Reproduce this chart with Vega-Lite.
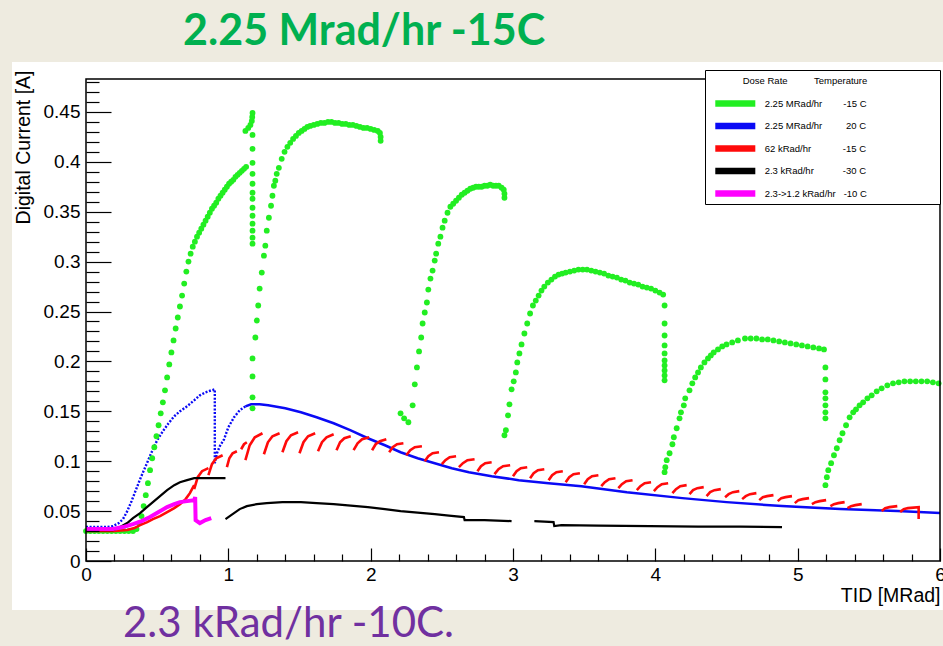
{
  "$schema": "https://vega.github.io/schema/vega-lite/v6.json",
  "width": 854,
  "height": 482,
  "autosize": {"type": "none"},
  "padding": {"left": 86, "top": 79, "right": 3, "bottom": 85},
  "background": "#eeebe0",
  "config": {"view": {"stroke": null}},
  "data": {"values": [
    {"s":"G","x":0,"y":0.03},{"s":"G","x":0.03,"y":0.03},{"s":"G","x":0.06,"y":0.03},{"s":"G","x":0.09,"y":0.03},{"s":"G","x":0.12,"y":0.03},{"s":"G","x":0.15,"y":0.03},{"s":"G","x":0.18,"y":0.03},{"s":"G","x":0.21,"y":0.03},{"s":"G","x":0.24,"y":0.03},{"s":"G","x":0.27,"y":0.03},{"s":"G","x":0.3,"y":0.03},{"s":"G","x":0.33,"y":0.03},{"s":"G","x":0.355,"y":0.032},{"s":"G","x":0.375,"y":0.038},
    {"s":"G","x":0.39,"y":0.045},{"s":"G","x":0.405,"y":0.055},{"s":"G","x":0.42,"y":0.066},{"s":"G","x":0.435,"y":0.078},{"s":"G","x":0.45,"y":0.091},{"s":"G","x":0.465,"y":0.103},{"s":"G","x":0.48,"y":0.114},{"s":"G","x":0.495,"y":0.125},{"s":"G","x":0.51,"y":0.136},{"s":"G","x":0.525,"y":0.148},{"s":"G","x":0.54,"y":0.159},{"s":"G","x":0.555,"y":0.171},{"s":"G","x":0.57,"y":0.184},{"s":"G","x":0.585,"y":0.197},{"s":"G","x":0.6,"y":0.209},{"s":"G","x":0.615,"y":0.221},{"s":"G","x":0.63,"y":0.233},{"s":"G","x":0.645,"y":0.244},{"s":"G","x":0.66,"y":0.255},{"s":"G","x":0.675,"y":0.266},{"s":"G","x":0.69,"y":0.278},{"s":"G","x":0.705,"y":0.29},{"s":"G","x":0.72,"y":0.3},{"s":"G","x":0.735,"y":0.308},{"s":"G","x":0.75,"y":0.315},{"s":"G","x":0.765,"y":0.32},{"s":"G","x":0.78,"y":0.325},{"s":"G","x":0.795,"y":0.329},{"s":"G","x":0.81,"y":0.333},{"s":"G","x":0.825,"y":0.337},{"s":"G","x":0.84,"y":0.341},{"s":"G","x":0.855,"y":0.345},{"s":"G","x":0.87,"y":0.349},{"s":"G","x":0.885,"y":0.353},{"s":"G","x":0.9,"y":0.356},{"s":"G","x":0.915,"y":0.359},{"s":"G","x":0.93,"y":0.363},{"s":"G","x":0.945,"y":0.366},{"s":"G","x":0.96,"y":0.369},{"s":"G","x":0.975,"y":0.372},{"s":"G","x":0.99,"y":0.375},{"s":"G","x":1.005,"y":0.378},{"s":"G","x":1.02,"y":0.38},{"s":"G","x":1.035,"y":0.382},{"s":"G","x":1.05,"y":0.385},{"s":"G","x":1.065,"y":0.387},{"s":"G","x":1.08,"y":0.389},{"s":"G","x":1.095,"y":0.391},{"s":"G","x":1.11,"y":0.393},{"s":"G","x":1.125,"y":0.395},
    {"s":"G","x":1.12,"y":0.431},{"s":"G","x":1.14,"y":0.434},{"s":"G","x":1.155,"y":0.437},{"s":"G","x":1.165,"y":0.441},{"s":"G","x":1.168,"y":0.445},{"s":"G","x":1.17,"y":0.449},
    {"s":"G","x":1.17,"y":0.427},{"s":"G","x":1.17,"y":0.413},{"s":"G","x":1.17,"y":0.399},{"s":"G","x":1.17,"y":0.388},{"s":"G","x":1.17,"y":0.378},{"s":"G","x":1.17,"y":0.369},{"s":"G","x":1.17,"y":0.363},{"s":"G","x":1.17,"y":0.354},{"s":"G","x":1.17,"y":0.346},{"s":"G","x":1.17,"y":0.338},{"s":"G","x":1.17,"y":0.331},{"s":"G","x":1.17,"y":0.324},{"s":"G","x":1.17,"y":0.318},{"s":"G","x":1.17,"y":0.203},{"s":"G","x":1.17,"y":0.185},{"s":"G","x":1.17,"y":0.164},{"s":"G","x":1.17,"y":0.153},
    {"s":"G","x":1.19,"y":0.224},{"s":"G","x":1.2,"y":0.241},{"s":"G","x":1.21,"y":0.256},{"s":"G","x":1.22,"y":0.273},{"s":"G","x":1.235,"y":0.289},{"s":"G","x":1.25,"y":0.306},{"s":"G","x":1.26,"y":0.316},{"s":"G","x":1.27,"y":0.331},{"s":"G","x":1.285,"y":0.344},{"s":"G","x":1.3,"y":0.356},{"s":"G","x":1.31,"y":0.366},{"s":"G","x":1.32,"y":0.376},{"s":"G","x":1.33,"y":0.381},{"s":"G","x":1.34,"y":0.388},{"s":"G","x":1.355,"y":0.394},{"s":"G","x":1.375,"y":0.403},{"s":"G","x":1.395,"y":0.41},{"s":"G","x":1.415,"y":0.415},{"s":"G","x":1.435,"y":0.419},{"s":"G","x":1.455,"y":0.423},{"s":"G","x":1.475,"y":0.426},{"s":"G","x":1.495,"y":0.429},{"s":"G","x":1.515,"y":0.431},{"s":"G","x":1.535,"y":0.433},{"s":"G","x":1.555,"y":0.435},{"s":"G","x":1.575,"y":0.436},{"s":"G","x":1.6,"y":0.437},{"s":"G","x":1.625,"y":0.438},{"s":"G","x":1.65,"y":0.439},{"s":"G","x":1.675,"y":0.439},{"s":"G","x":1.7,"y":0.44},{"s":"G","x":1.725,"y":0.44},{"s":"G","x":1.75,"y":0.439},{"s":"G","x":1.775,"y":0.439},{"s":"G","x":1.8,"y":0.438},{"s":"G","x":1.825,"y":0.438},{"s":"G","x":1.85,"y":0.437},{"s":"G","x":1.875,"y":0.437},{"s":"G","x":1.9,"y":0.436},{"s":"G","x":1.925,"y":0.435},{"s":"G","x":1.95,"y":0.434},{"s":"G","x":1.975,"y":0.434},{"s":"G","x":2.0,"y":0.433},{"s":"G","x":2.025,"y":0.432},{"s":"G","x":2.05,"y":0.431},{"s":"G","x":2.065,"y":0.429},{"s":"G","x":2.07,"y":0.425},{"s":"G","x":2.07,"y":0.421},
    {"s":"G","x":2.21,"y":0.148},{"s":"G","x":2.235,"y":0.143},{"s":"G","x":2.265,"y":0.139},{"s":"G","x":2.295,"y":0.156},{"s":"G","x":2.31,"y":0.177},{"s":"G","x":2.325,"y":0.194},{"s":"G","x":2.34,"y":0.21},{"s":"G","x":2.355,"y":0.224},{"s":"G","x":2.365,"y":0.238},{"s":"G","x":2.38,"y":0.249},{"s":"G","x":2.395,"y":0.259},{"s":"G","x":2.405,"y":0.272},{"s":"G","x":2.42,"y":0.283},{"s":"G","x":2.435,"y":0.291},{"s":"G","x":2.45,"y":0.301},{"s":"G","x":2.46,"y":0.308},{"s":"G","x":2.475,"y":0.318},{"s":"G","x":2.49,"y":0.325},{"s":"G","x":2.505,"y":0.334},{"s":"G","x":2.52,"y":0.341},{"s":"G","x":2.54,"y":0.349},{"s":"G","x":2.56,"y":0.355},{"s":"G","x":2.58,"y":0.358},{"s":"G","x":2.6,"y":0.361},{"s":"G","x":2.62,"y":0.364},{"s":"G","x":2.64,"y":0.367},{"s":"G","x":2.66,"y":0.369},{"s":"G","x":2.68,"y":0.371},{"s":"G","x":2.7,"y":0.373},{"s":"G","x":2.72,"y":0.374},{"s":"G","x":2.74,"y":0.375},{"s":"G","x":2.76,"y":0.375},{"s":"G","x":2.78,"y":0.375},{"s":"G","x":2.8,"y":0.376},{"s":"G","x":2.82,"y":0.376},{"s":"G","x":2.84,"y":0.377},{"s":"G","x":2.86,"y":0.376},{"s":"G","x":2.88,"y":0.376},{"s":"G","x":2.9,"y":0.376},{"s":"G","x":2.92,"y":0.374},{"s":"G","x":2.935,"y":0.372},{"s":"G","x":2.94,"y":0.368},{"s":"G","x":2.94,"y":0.364},
    {"s":"G","x":2.94,"y":0.126},{"s":"G","x":2.95,"y":0.131},{"s":"G","x":2.965,"y":0.146},{"s":"G","x":2.975,"y":0.157},{"s":"G","x":2.99,"y":0.172},{"s":"G","x":3.005,"y":0.18},{"s":"G","x":3.02,"y":0.189},{"s":"G","x":3.03,"y":0.199},{"s":"G","x":3.045,"y":0.208},{"s":"G","x":3.06,"y":0.217},{"s":"G","x":3.08,"y":0.228},{"s":"G","x":3.1,"y":0.238},{"s":"G","x":3.12,"y":0.248},{"s":"G","x":3.14,"y":0.256},{"s":"G","x":3.16,"y":0.261},{"s":"G","x":3.18,"y":0.266},{"s":"G","x":3.2,"y":0.271},{"s":"G","x":3.22,"y":0.275},{"s":"G","x":3.245,"y":0.279},{"s":"G","x":3.27,"y":0.282},{"s":"G","x":3.295,"y":0.285},{"s":"G","x":3.32,"y":0.287},{"s":"G","x":3.345,"y":0.288},{"s":"G","x":3.37,"y":0.289},{"s":"G","x":3.4,"y":0.29},{"s":"G","x":3.43,"y":0.291},{"s":"G","x":3.46,"y":0.292},{"s":"G","x":3.49,"y":0.292},{"s":"G","x":3.52,"y":0.292},{"s":"G","x":3.55,"y":0.291},{"s":"G","x":3.58,"y":0.29},{"s":"G","x":3.61,"y":0.289},{"s":"G","x":3.64,"y":0.288},{"s":"G","x":3.67,"y":0.286},{"s":"G","x":3.7,"y":0.285},{"s":"G","x":3.73,"y":0.284},{"s":"G","x":3.76,"y":0.282},{"s":"G","x":3.79,"y":0.281},{"s":"G","x":3.82,"y":0.279},{"s":"G","x":3.85,"y":0.278},{"s":"G","x":3.88,"y":0.277},{"s":"G","x":3.91,"y":0.275},{"s":"G","x":3.94,"y":0.274},{"s":"G","x":3.97,"y":0.273},{"s":"G","x":4.0,"y":0.271},{"s":"G","x":4.03,"y":0.269},{"s":"G","x":4.055,"y":0.267},
    {"s":"G","x":4.065,"y":0.256},{"s":"G","x":4.065,"y":0.238},{"s":"G","x":4.065,"y":0.226},{"s":"G","x":4.065,"y":0.216},{"s":"G","x":4.065,"y":0.208},{"s":"G","x":4.065,"y":0.201},{"s":"G","x":4.065,"y":0.196},{"s":"G","x":4.065,"y":0.191},{"s":"G","x":4.065,"y":0.186},{"s":"G","x":4.065,"y":0.181},
    {"s":"G","x":4.065,"y":0.089},{"s":"G","x":4.07,"y":0.094},{"s":"G","x":4.08,"y":0.101},{"s":"G","x":4.1,"y":0.108},{"s":"G","x":4.12,"y":0.117},{"s":"G","x":4.13,"y":0.124},{"s":"G","x":4.15,"y":0.133},{"s":"G","x":4.17,"y":0.143},{"s":"G","x":4.18,"y":0.149},{"s":"G","x":4.2,"y":0.156},{"s":"G","x":4.21,"y":0.163},{"s":"G","x":4.24,"y":0.171},{"s":"G","x":4.26,"y":0.178},{"s":"G","x":4.28,"y":0.184},{"s":"G","x":4.3,"y":0.189},{"s":"G","x":4.32,"y":0.194},{"s":"G","x":4.345,"y":0.199},{"s":"G","x":4.37,"y":0.203},{"s":"G","x":4.39,"y":0.206},{"s":"G","x":4.41,"y":0.209},{"s":"G","x":4.44,"y":0.212},{"s":"G","x":4.47,"y":0.215},{"s":"G","x":4.5,"y":0.217},{"s":"G","x":4.54,"y":0.219},{"s":"G","x":4.58,"y":0.221},{"s":"G","x":4.63,"y":0.223},{"s":"G","x":4.67,"y":0.223},{"s":"G","x":4.71,"y":0.223},{"s":"G","x":4.75,"y":0.222},{"s":"G","x":4.79,"y":0.222},{"s":"G","x":4.83,"y":0.221},{"s":"G","x":4.87,"y":0.22},{"s":"G","x":4.91,"y":0.219},{"s":"G","x":4.95,"y":0.218},{"s":"G","x":4.99,"y":0.217},{"s":"G","x":5.03,"y":0.216},{"s":"G","x":5.07,"y":0.215},{"s":"G","x":5.11,"y":0.214},{"s":"G","x":5.15,"y":0.213},{"s":"G","x":5.185,"y":0.212},
    {"s":"G","x":5.195,"y":0.194},{"s":"G","x":5.195,"y":0.182},{"s":"G","x":5.195,"y":0.169},{"s":"G","x":5.195,"y":0.163},{"s":"G","x":5.195,"y":0.156},{"s":"G","x":5.195,"y":0.149},{"s":"G","x":5.195,"y":0.143},
    {"s":"G","x":5.195,"y":0.076},{"s":"G","x":5.205,"y":0.084},{"s":"G","x":5.215,"y":0.091},{"s":"G","x":5.235,"y":0.098},{"s":"G","x":5.255,"y":0.106},{"s":"G","x":5.275,"y":0.113},{"s":"G","x":5.295,"y":0.121},{"s":"G","x":5.315,"y":0.128},{"s":"G","x":5.34,"y":0.136},{"s":"G","x":5.365,"y":0.144},{"s":"G","x":5.39,"y":0.149},{"s":"G","x":5.41,"y":0.152},{"s":"G","x":5.435,"y":0.156},{"s":"G","x":5.46,"y":0.159},{"s":"G","x":5.49,"y":0.163},{"s":"G","x":5.52,"y":0.166},{"s":"G","x":5.555,"y":0.17},{"s":"G","x":5.59,"y":0.173},{"s":"G","x":5.63,"y":0.176},{"s":"G","x":5.67,"y":0.178},{"s":"G","x":5.71,"y":0.179},{"s":"G","x":5.75,"y":0.18},{"s":"G","x":5.79,"y":0.18},{"s":"G","x":5.83,"y":0.18},{"s":"G","x":5.87,"y":0.18},{"s":"G","x":5.91,"y":0.18},{"s":"G","x":5.95,"y":0.179},{"s":"G","x":5.99,"y":0.178},

    {"s":"B","seg":0,"x":0,"y":0.034},{"s":"B","seg":0,"x":0.05,"y":0.034},{"s":"B","seg":0,"x":0.1,"y":0.034},{"s":"B","seg":0,"x":0.15,"y":0.034},{"s":"B","seg":0,"x":0.19,"y":0.035},{"s":"B","seg":0,"x":0.23,"y":0.038},{"s":"B","seg":0,"x":0.26,"y":0.042},{"s":"B","seg":0,"x":0.29,"y":0.05},{"s":"B","seg":0,"x":0.32,"y":0.06},{"s":"B","seg":0,"x":0.35,"y":0.071},{"s":"B","seg":0,"x":0.38,"y":0.082},{"s":"B","seg":0,"x":0.41,"y":0.092},{"s":"B","seg":0,"x":0.44,"y":0.102},{"s":"B","seg":0,"x":0.47,"y":0.112},{"s":"B","seg":0,"x":0.5,"y":0.121},{"s":"B","seg":0,"x":0.54,"y":0.13},{"s":"B","seg":0,"x":0.58,"y":0.138},{"s":"B","seg":0,"x":0.62,"y":0.145},{"s":"B","seg":0,"x":0.66,"y":0.15},{"s":"B","seg":0,"x":0.71,"y":0.155},{"s":"B","seg":0,"x":0.76,"y":0.161},{"s":"B","seg":0,"x":0.8,"y":0.166},{"s":"B","seg":0,"x":0.84,"y":0.169},{"s":"B","seg":0,"x":0.88,"y":0.171},{"s":"B","seg":0,"x":0.905,"y":0.172},{"s":"B","seg":0,"x":0.905,"y":0.098},{"s":"B","seg":0,"x":0.92,"y":0.108},{"s":"B","seg":0,"x":0.94,"y":0.115},{"s":"B","seg":0,"x":0.97,"y":0.122},{"s":"B","seg":0,"x":1.0,"y":0.134},{"s":"B","seg":0,"x":1.04,"y":0.144},{"s":"B","seg":0,"x":1.08,"y":0.151},{"s":"B","seg":0,"x":1.12,"y":0.155},
    {"s":"B","seg":1,"x":1.12,"y":0.155},{"s":"B","seg":1,"x":1.16,"y":0.157},{"s":"B","seg":1,"x":1.22,"y":0.157},{"s":"B","seg":1,"x":1.28,"y":0.156},{"s":"B","seg":1,"x":1.4,"y":0.153},{"s":"B","seg":1,"x":1.51,"y":0.149},{"s":"B","seg":1,"x":1.62,"y":0.144},{"s":"B","seg":1,"x":1.74,"y":0.138},{"s":"B","seg":1,"x":1.86,"y":0.131},{"s":"B","seg":1,"x":1.98,"y":0.123},{"s":"B","seg":1,"x":2.1,"y":0.116},{"s":"B","seg":1,"x":2.21,"y":0.109},{"s":"B","seg":1,"x":2.33,"y":0.103},{"s":"B","seg":1,"x":2.45,"y":0.098},{"s":"B","seg":1,"x":2.57,"y":0.093},{"s":"B","seg":1,"x":2.69,"y":0.089},{"s":"B","seg":1,"x":2.85,"y":0.085},{"s":"B","seg":1,"x":3.04,"y":0.081},{"s":"B","seg":1,"x":3.25,"y":0.078},{"s":"B","seg":1,"x":3.48,"y":0.075},{"s":"B","seg":1,"x":3.8,"y":0.069},{"s":"B","seg":1,"x":4.19,"y":0.063},{"s":"B","seg":1,"x":4.5,"y":0.059},{"s":"B","seg":1,"x":4.89,"y":0.055},{"s":"B","seg":1,"x":5.3,"y":0.052},{"s":"B","seg":1,"x":5.7,"y":0.05},{"s":"B","seg":1,"x":6.0,"y":0.048},

    {"s":"R","seg":0,"x":0,"y":0.03},{"s":"R","seg":0,"x":0.1,"y":0.03},{"s":"R","seg":0,"x":0.2,"y":0.03},{"s":"R","seg":0,"x":0.29,"y":0.031},{"s":"R","seg":0,"x":0.34,"y":0.033},{"s":"R","seg":0,"x":0.38,"y":0.036},{"s":"R","seg":0,"x":0.43,"y":0.039},{"s":"R","seg":0,"x":0.47,"y":0.042},{"s":"R","seg":0,"x":0.52,"y":0.045},{"s":"R","seg":0,"x":0.57,"y":0.049},{"s":"R","seg":0,"x":0.62,"y":0.053},{"s":"R","seg":0,"x":0.66,"y":0.057},{"s":"R","seg":0,"x":0.7,"y":0.062},{"s":"R","seg":0,"x":0.73,"y":0.068},{"s":"R","seg":0,"x":0.76,"y":0.076},
    {"s":"R","seg":1,"x":0.76,"y":0.072},{"s":"R","seg":1,"x":0.785,"y":0.084},{"s":"R","seg":1,"x":0.815,"y":0.09},{"s":"R","seg":1,"x":0.86,"y":0.093},
    {"s":"R","seg":2,"x":0.86,"y":0.086},{"s":"R","seg":2,"x":0.885,"y":0.097},{"s":"R","seg":2,"x":0.915,"y":0.103},{"s":"R","seg":2,"x":0.96,"y":0.106},
    {"s":"R","seg":3,"x":0.99,"y":0.094},{"s":"R","seg":3,"x":1.007,"y":0.103},{"s":"R","seg":3,"x":1.03,"y":0.108},{"s":"R","seg":3,"x":1.06,"y":0.11},
    {"s":"R","seg":4,"x":1.09,"y":0.112},{"s":"R","seg":4,"x":1.11,"y":0.117},{"s":"R","seg":4,"x":1.13,"y":0.119},
    {"s":"R","seg":5,"x":1.12,"y":0.101},{"s":"R","seg":5,"x":1.15,"y":0.116},{"s":"R","seg":5,"x":1.186,"y":0.124},{"s":"R","seg":5,"x":1.24,"y":0.128},
    {"s":"R","seg":6,"x":1.25,"y":0.107},{"s":"R","seg":6,"x":1.278,"y":0.119},{"s":"R","seg":6,"x":1.31,"y":0.125},{"s":"R","seg":6,"x":1.36,"y":0.128},
    {"s":"R","seg":7,"x":1.38,"y":0.109},{"s":"R","seg":7,"x":1.408,"y":0.12},{"s":"R","seg":7,"x":1.44,"y":0.126},{"s":"R","seg":7,"x":1.49,"y":0.129},
    {"s":"R","seg":8,"x":1.5,"y":0.108},{"s":"R","seg":8,"x":1.528,"y":0.119},{"s":"R","seg":8,"x":1.56,"y":0.125},{"s":"R","seg":8,"x":1.61,"y":0.128},
    {"s":"R","seg":9,"x":1.63,"y":0.11},{"s":"R","seg":9,"x":1.658,"y":0.119},{"s":"R","seg":9,"x":1.69,"y":0.124},{"s":"R","seg":9,"x":1.74,"y":0.127},
    {"s":"R","seg":10,"x":1.76,"y":0.111},{"s":"R","seg":10,"x":1.785,"y":0.119},{"s":"R","seg":10,"x":1.815,"y":0.123},{"s":"R","seg":10,"x":1.86,"y":0.125},
    {"s":"R","seg":11,"x":1.88,"y":0.111},{"s":"R","seg":11,"x":1.908,"y":0.118},{"s":"R","seg":11,"x":1.94,"y":0.122},{"s":"R","seg":11,"x":1.99,"y":0.124},
    {"s":"R","seg":12,"x":2.01,"y":0.111},{"s":"R","seg":12,"x":2.035,"y":0.117},{"s":"R","seg":12,"x":2.065,"y":0.12},{"s":"R","seg":12,"x":2.11,"y":0.122},
    {"s":"R","seg":13,"x":2.13,"y":0.109},{"s":"R","seg":13,"x":2.155,"y":0.114},{"s":"R","seg":13,"x":2.185,"y":0.117},{"s":"R","seg":13,"x":2.23,"y":0.118},
    {"s":"R","seg":14,"x":2.25,"y":0.106},{"s":"R","seg":14,"x":2.278,"y":0.111},{"s":"R","seg":14,"x":2.31,"y":0.114},{"s":"R","seg":14,"x":2.36,"y":0.115},
    {"s":"R","seg":15,"x":2.38,"y":0.1},{"s":"R","seg":15,"x":2.405,"y":0.105},{"s":"R","seg":15,"x":2.435,"y":0.108},{"s":"R","seg":15,"x":2.48,"y":0.109},
    {"s":"R","seg":16,"x":2.5,"y":0.097},{"s":"R","seg":16,"x":2.525,"y":0.101},{"s":"R","seg":16,"x":2.555,"y":0.104},{"s":"R","seg":16,"x":2.6,"y":0.105},
    {"s":"R","seg":17,"x":2.62,"y":0.094},{"s":"R","seg":17,"x":2.648,"y":0.098},{"s":"R","seg":17,"x":2.68,"y":0.101},{"s":"R","seg":17,"x":2.73,"y":0.102},
    {"s":"R","seg":18,"x":2.75,"y":0.09},{"s":"R","seg":18,"x":2.775,"y":0.095},{"s":"R","seg":18,"x":2.805,"y":0.098},{"s":"R","seg":18,"x":2.85,"y":0.099},
    {"s":"R","seg":19,"x":2.87,"y":0.087},{"s":"R","seg":19,"x":2.898,"y":0.092},{"s":"R","seg":19,"x":2.93,"y":0.095},{"s":"R","seg":19,"x":2.98,"y":0.096},
    {"s":"R","seg":20,"x":3.0,"y":0.085},{"s":"R","seg":20,"x":3.025,"y":0.09},{"s":"R","seg":20,"x":3.055,"y":0.093},{"s":"R","seg":20,"x":3.1,"y":0.094},
    {"s":"R","seg":21,"x":3.12,"y":0.083},{"s":"R","seg":21,"x":3.145,"y":0.088},{"s":"R","seg":21,"x":3.175,"y":0.091},{"s":"R","seg":21,"x":3.22,"y":0.092},
    {"s":"R","seg":22,"x":3.25,"y":0.081},{"s":"R","seg":22,"x":3.275,"y":0.086},{"s":"R","seg":22,"x":3.305,"y":0.089},{"s":"R","seg":22,"x":3.35,"y":0.09},
    {"s":"R","seg":23,"x":3.37,"y":0.079},{"s":"R","seg":23,"x":3.395,"y":0.084},{"s":"R","seg":23,"x":3.425,"y":0.087},{"s":"R","seg":23,"x":3.47,"y":0.088},
    {"s":"R","seg":24,"x":3.5,"y":0.077},{"s":"R","seg":24,"x":3.525,"y":0.082},{"s":"R","seg":24,"x":3.555,"y":0.085},{"s":"R","seg":24,"x":3.6,"y":0.086},
    {"s":"R","seg":25,"x":3.62,"y":0.075},{"s":"R","seg":25,"x":3.645,"y":0.079},{"s":"R","seg":25,"x":3.675,"y":0.082},{"s":"R","seg":25,"x":3.72,"y":0.083},
    {"s":"R","seg":26,"x":3.74,"y":0.073},{"s":"R","seg":26,"x":3.765,"y":0.077},{"s":"R","seg":26,"x":3.795,"y":0.08},{"s":"R","seg":26,"x":3.84,"y":0.081},
    {"s":"R","seg":27,"x":3.87,"y":0.071},{"s":"R","seg":27,"x":3.895,"y":0.075},{"s":"R","seg":27,"x":3.925,"y":0.078},{"s":"R","seg":27,"x":3.97,"y":0.079},
    {"s":"R","seg":28,"x":3.99,"y":0.07},{"s":"R","seg":28,"x":4.015,"y":0.074},{"s":"R","seg":28,"x":4.045,"y":0.077},{"s":"R","seg":28,"x":4.09,"y":0.078},
    {"s":"R","seg":29,"x":4.12,"y":0.068},{"s":"R","seg":29,"x":4.145,"y":0.072},{"s":"R","seg":29,"x":4.175,"y":0.075},{"s":"R","seg":29,"x":4.22,"y":0.076},
    {"s":"R","seg":30,"x":4.24,"y":0.067},{"s":"R","seg":30,"x":4.265,"y":0.071},{"s":"R","seg":30,"x":4.295,"y":0.073},{"s":"R","seg":30,"x":4.34,"y":0.074},
    {"s":"R","seg":31,"x":4.36,"y":0.065},{"s":"R","seg":31,"x":4.385,"y":0.069},{"s":"R","seg":31,"x":4.415,"y":0.071},{"s":"R","seg":31,"x":4.46,"y":0.072},
    {"s":"R","seg":32,"x":4.49,"y":0.064},{"s":"R","seg":32,"x":4.515,"y":0.067},{"s":"R","seg":32,"x":4.545,"y":0.069},{"s":"R","seg":32,"x":4.59,"y":0.07},
    {"s":"R","seg":33,"x":4.61,"y":0.062},{"s":"R","seg":33,"x":4.635,"y":0.065},{"s":"R","seg":33,"x":4.665,"y":0.067},{"s":"R","seg":33,"x":4.71,"y":0.068},
    {"s":"R","seg":34,"x":4.73,"y":0.061},{"s":"R","seg":34,"x":4.755,"y":0.064},{"s":"R","seg":34,"x":4.785,"y":0.065},{"s":"R","seg":34,"x":4.83,"y":0.066},
    {"s":"R","seg":35,"x":4.86,"y":0.06},{"s":"R","seg":35,"x":4.885,"y":0.063},{"s":"R","seg":35,"x":4.915,"y":0.064},{"s":"R","seg":35,"x":4.96,"y":0.065},
    {"s":"R","seg":36,"x":4.98,"y":0.058},{"s":"R","seg":36,"x":5.005,"y":0.061},{"s":"R","seg":36,"x":5.035,"y":0.062},{"s":"R","seg":36,"x":5.08,"y":0.063},
    {"s":"R","seg":37,"x":5.1,"y":0.057},{"s":"R","seg":37,"x":5.125,"y":0.059},{"s":"R","seg":37,"x":5.155,"y":0.06},{"s":"R","seg":37,"x":5.2,"y":0.061},
    {"s":"R","seg":38,"x":5.23,"y":0.055},{"s":"R","seg":38,"x":5.255,"y":0.057},{"s":"R","seg":38,"x":5.285,"y":0.058},{"s":"R","seg":38,"x":5.33,"y":0.059},
    {"s":"R","seg":39,"x":5.35,"y":0.053},{"s":"R","seg":39,"x":5.375,"y":0.055},{"s":"R","seg":39,"x":5.405,"y":0.056},{"s":"R","seg":39,"x":5.45,"y":0.057},
    {"s":"R","seg":41,"x":5.59,"y":0.05},{"s":"R","seg":41,"x":5.615,"y":0.053},{"s":"R","seg":41,"x":5.645,"y":0.054},{"s":"R","seg":41,"x":5.7,"y":0.055},
    {"s":"R","seg":42,"x":5.72,"y":0.049},{"s":"R","seg":42,"x":5.745,"y":0.052},{"s":"R","seg":42,"x":5.775,"y":0.053},{"s":"R","seg":42,"x":5.85,"y":0.054},{"s":"R","seg":42,"x":5.85,"y":0.042},

    {"s":"K","seg":0,"x":0,"y":0.031},{"s":"K","seg":0,"x":0.1,"y":0.031},{"s":"K","seg":0,"x":0.19,"y":0.031},{"s":"K","seg":0,"x":0.24,"y":0.034},{"s":"K","seg":0,"x":0.29,"y":0.038},{"s":"K","seg":0,"x":0.33,"y":0.043},{"s":"K","seg":0,"x":0.38,"y":0.048},{"s":"K","seg":0,"x":0.42,"y":0.053},{"s":"K","seg":0,"x":0.47,"y":0.059},{"s":"K","seg":0,"x":0.52,"y":0.065},{"s":"K","seg":0,"x":0.57,"y":0.071},{"s":"K","seg":0,"x":0.62,"y":0.076},{"s":"K","seg":0,"x":0.66,"y":0.079},{"s":"K","seg":0,"x":0.71,"y":0.081},{"s":"K","seg":0,"x":0.76,"y":0.083},{"s":"K","seg":0,"x":0.85,"y":0.083},{"s":"K","seg":0,"x":0.98,"y":0.083},
    {"s":"K","seg":1,"x":0.98,"y":0.042},{"s":"K","seg":1,"x":1.01,"y":0.045},{"s":"K","seg":1,"x":1.04,"y":0.048},{"s":"K","seg":1,"x":1.08,"y":0.052},{"s":"K","seg":1,"x":1.13,"y":0.055},{"s":"K","seg":1,"x":1.2,"y":0.057},{"s":"K","seg":1,"x":1.27,"y":0.058},{"s":"K","seg":1,"x":1.38,"y":0.059},{"s":"K","seg":1,"x":1.51,"y":0.059},{"s":"K","seg":1,"x":1.62,"y":0.058},{"s":"K","seg":1,"x":1.74,"y":0.057},{"s":"K","seg":1,"x":1.86,"y":0.0555},{"s":"K","seg":1,"x":1.98,"y":0.054},{"s":"K","seg":1,"x":2.1,"y":0.052},{"s":"K","seg":1,"x":2.21,"y":0.05},{"s":"K","seg":1,"x":2.33,"y":0.0485},{"s":"K","seg":1,"x":2.45,"y":0.047},{"s":"K","seg":1,"x":2.55,"y":0.0455},{"s":"K","seg":1,"x":2.655,"y":0.044},{"s":"K","seg":1,"x":2.66,"y":0.041},{"s":"K","seg":1,"x":2.8,"y":0.041},{"s":"K","seg":1,"x":2.99,"y":0.04},
    {"s":"K","seg":2,"x":3.15,"y":0.04},{"s":"K","seg":2,"x":3.22,"y":0.0395},{"s":"K","seg":2,"x":3.285,"y":0.039},{"s":"K","seg":2,"x":3.29,"y":0.035},{"s":"K","seg":2,"x":3.34,"y":0.036},{"s":"K","seg":2,"x":3.6,"y":0.0355},{"s":"K","seg":2,"x":3.96,"y":0.035},{"s":"K","seg":2,"x":4.3,"y":0.0345},{"s":"K","seg":2,"x":4.6,"y":0.0345},{"s":"K","seg":2,"x":4.89,"y":0.034},

    {"s":"M","x":0,"y":0.032},{"s":"M","x":0.1,"y":0.032},{"s":"M","x":0.19,"y":0.032},{"s":"M","x":0.26,"y":0.034},{"s":"M","x":0.33,"y":0.037},{"s":"M","x":0.39,"y":0.04},{"s":"M","x":0.45,"y":0.044},{"s":"M","x":0.51,"y":0.049},{"s":"M","x":0.57,"y":0.054},{"s":"M","x":0.62,"y":0.057},{"s":"M","x":0.66,"y":0.059},{"s":"M","x":0.71,"y":0.06},{"s":"M","x":0.76,"y":0.061},{"s":"M","x":0.767,"y":0.064},{"s":"M","x":0.77,"y":0.041},{"s":"M","x":0.8,"y":0.038},{"s":"M","x":0.84,"y":0.041},{"s":"M","x":0.88,"y":0.043}
  ]},
  "layer": [
    {
      "data": {"values": [{}]},
      "mark": {"type": "rect", "fill": "white"},
      "encoding": {
        "x": {"datum": -0.52, "type": "quantitative", "scale": {"domain": [0, 6], "nice": false, "zero": false}, "axis": null},
        "x2": {"datum": 6.02},
        "y": {"datum": -0.049, "type": "quantitative", "scale": {"domain": [0, 0.483], "nice": false, "zero": false}, "axis": null},
        "y2": {"datum": 0.5}
      }
    },
    {
      "transform": [{"filter": "datum.s == 'B' && datum.seg == 1"}],
      "mark": {"type": "line", "strokeWidth": 2.5},
      "encoding": {
        "x": {"field": "x", "type": "quantitative", "scale": {"domain": [0, 6], "nice": false, "zero": false},
          "axis": {"orient": "bottom", "values": [0, 1, 2, 3, 4, 5, 6], "format": "~g", "labelFont": "Liberation Sans", "labelFontSize": 19, "labelColor": "black", "labelFlush": false, "labelOverlap": false, "labelPadding": 17, "tickSize": -13, "tickColor": "black", "tickWidth": 1.2, "domain": false, "grid": false, "zindex": 1,
            "title": "TID [MRad]", "titleFont": "Liberation Sans", "titleFontSize": 19.5, "titleFontWeight": "normal", "titleColor": "black", "titleX": 854, "titleY": 40, "titleAlign": "right", "titleBaseline": "alphabetic"}},
        "y": {"field": "y", "type": "quantitative", "scale": {"domain": [0, 0.483], "nice": false, "zero": false},
          "axis": {"orient": "left", "values": [0, 0.05, 0.1, 0.15, 0.2, 0.25, 0.3, 0.35, 0.4, 0.45], "format": "~g", "labelFont": "Liberation Sans", "labelFontSize": 19, "labelColor": "black", "labelPadding": 31, "labelFlush": false, "labelOverlap": false, "tickSize": -25, "tickColor": "black", "tickWidth": 1.2, "domain": false, "grid": false, "zindex": 1,
            "title": "Digital Current [A]", "titleFont": "Liberation Sans", "titleFontSize": 19.5, "titleFontWeight": "normal", "titleColor": "black", "titleAngle": 270, "titleX": -57, "titleY": -9, "titleAlign": "right", "titleBaseline": "alphabetic"}},
        "color": {"field": "s", "type": "nominal",
          "scale": {"domain": ["G", "B", "R", "K", "M"], "range": ["#22ee22", "#0a0af5", "#ff0a0a", "#000000", "#ff00ff"]},
          "legend": {"orient": "none", "legendX": 619, "legendY": -9, "zindex": 2,
            "title": "\u200b\u00a0\u00a0\u00a0\u00a0\u00a0\u00a0\u00a0\u00a0\u00a0\u00a0\u00a0\u00a0Dose Rate\u00a0\u00a0\u00a0\u00a0\u00a0\u00a0\u00a0\u00a0\u00a0\u00a0Temperature\u00a0\u00a0\u00a0\u00a0\u00a0\u00a0\u00a0\u00a0\u00a0\u00a0\u00a0\u00a0\u00a0\u00a0\u00a0\u00a0\u00a0\u00a0\u00a0\u00a0\u00a0\u00a0\u00a0\u00a0\u00a0\u200b",
            "titleFont": "Liberation Sans", "titleFontSize": 9.5, "titleFontWeight": "normal", "titleColor": "black", "titlePadding": 11, "titleLimit": 500,
            "padding": 6, "fillColor": "white", "strokeColor": "black",
            "symbolType": "M-3,-0.5H3V0.5H-3Z", "symbolSize": 178, "symbolStrokeWidth": 0, "symbolOpacity": 1, "symbolOffset": 17.3,
            "labelFont": "Liberation Sans", "labelFontSize": 9.5, "labelColor": "black", "labelOffset": 22.4, "labelLimit": 400, "rowPadding": 10.5,
            "labelExpr": "{'G': '2.25 MRad/hr\u00a0\u00a0\u00a0\u00a0\u00a0\u00a0\u00a0\u00a0-15 C', 'B': '2.25 MRad/hr\u00a0\u00a0\u00a0\u00a0\u00a0\u00a0\u00a0\u00a0\u00a020 C', 'R': '62 kRad/hr\u00a0\u00a0\u00a0\u00a0\u00a0\u00a0\u00a0\u00a0\u00a0\u00a0\u00a0\u00a0-15 C', 'K': '2.3 kRad/hr\u00a0\u00a0\u00a0\u00a0\u00a0\u00a0\u00a0\u00a0\u00a0\u00a0\u00a0-30 C', 'M': '2.3->1.2 kRad/hr\u00a0\u00a0\u00a0-10 C'}[datum.value]"}},
        "order": {"value": null}
      }
    },
    {
      "transform": [{"filter": "datum.s == 'B' && datum.seg == 0"}],
      "mark": {"type": "line", "strokeWidth": 2.4, "strokeDash": [2, 1.6]},
      "encoding": {
        "x": {"field": "x", "type": "quantitative", "axis": null},
        "y": {"field": "y", "type": "quantitative", "axis": null},
        "color": {"field": "s", "type": "nominal"},
        "order": {"value": null}
      }
    },
    {
      "transform": [{"filter": "datum.s == 'G'"}],
      "mark": {"type": "point", "filled": true, "shape": "circle", "size": 34, "opacity": 1},
      "encoding": {
        "x": {"field": "x", "type": "quantitative", "axis": null},
        "y": {"field": "y", "type": "quantitative", "axis": null},
        "color": {"field": "s", "type": "nominal"}
      }
    },
    {
      "transform": [{"filter": "datum.s == 'R'"}],
      "mark": {"type": "line", "strokeWidth": 2.6},
      "encoding": {
        "x": {"field": "x", "type": "quantitative",
          "axis": {"orient": "bottom", "values": [0.2, 0.4, 0.6, 0.8, 1.2, 1.4, 1.6, 1.8, 2.2, 2.4, 2.6, 2.8, 3.2, 3.4, 3.6, 3.8, 4.2, 4.4, 4.6, 4.8, 5.2, 5.4, 5.6, 5.8], "labels": false, "domain": false, "grid": false, "tickSize": -7, "tickColor": "black", "tickWidth": 1.2, "title": null, "zindex": 1}},
        "y": {"field": "y", "type": "quantitative",
          "axis": {"orient": "left", "values": [0.01, 0.02, 0.03, 0.04, 0.06, 0.07, 0.08, 0.09, 0.11, 0.12, 0.13, 0.14, 0.16, 0.17, 0.18, 0.19, 0.21, 0.22, 0.23, 0.24, 0.26, 0.27, 0.28, 0.29, 0.31, 0.32, 0.33, 0.34, 0.36, 0.37, 0.38, 0.39, 0.41, 0.42, 0.43, 0.44, 0.46, 0.47, 0.48], "labels": false, "domain": false, "grid": false, "tickSize": -13, "tickColor": "black", "tickWidth": 1.2, "title": null, "zindex": 1}},
        "color": {"field": "s", "type": "nominal"},
        "detail": {"field": "seg", "type": "nominal"},
        "order": {"value": null}
      }
    },
    {
      "transform": [{"filter": "datum.s == 'K'"}],
      "mark": {"type": "line", "strokeWidth": 2.2},
      "encoding": {
        "x": {"field": "x", "type": "quantitative", "axis": null},
        "y": {"field": "y", "type": "quantitative", "axis": null},
        "color": {"field": "s", "type": "nominal"},
        "detail": {"field": "seg", "type": "nominal"},
        "order": {"value": null}
      }
    },
    {
      "transform": [{"filter": "datum.s == 'M'"}],
      "mark": {"type": "line", "strokeWidth": 4},
      "encoding": {
        "x": {"field": "x", "type": "quantitative", "axis": null},
        "y": {"field": "y", "type": "quantitative", "axis": null},
        "color": {"field": "s", "type": "nominal"},
        "order": {"value": null}
      }
    },
    {
      "data": {"values": [{}]},
      "mark": {"type": "rect", "fillOpacity": 0, "stroke": "black", "strokeWidth": 1.5},
      "encoding": {
        "x": {"datum": 0, "type": "quantitative", "axis": null},
        "x2": {"datum": 6},
        "y": {"datum": 0, "type": "quantitative", "axis": null},
        "y2": {"datum": 0.483}
      }
    },
    {
      "data": {"values": [{}]},
      "mark": {"type": "text", "text": "2.25 Mrad/hr -15C", "align": "left", "baseline": "alphabetic", "font": "Lato", "fontWeight": "bold", "fontSize": 43, "color": "#00b050"},
      "encoding": {
        "x": {"datum": 0.682, "type": "quantitative", "axis": null},
        "y": {"datum": 0.517, "type": "quantitative", "axis": null}
      }
    },
    {
      "data": {"values": [{}]},
      "mark": {"type": "text", "text": "2.3 kRad/hr -10C.", "align": "left", "baseline": "alphabetic", "font": "Lato", "fontSize": 42, "color": "#7030a0"},
      "encoding": {
        "x": {"datum": 0.26, "type": "quantitative", "axis": null},
        "y": {"datum": -0.0762, "type": "quantitative", "axis": null}
      }
    }
  ],
  "resolve": {"axis": {"x": "independent", "y": "independent"}}
}
